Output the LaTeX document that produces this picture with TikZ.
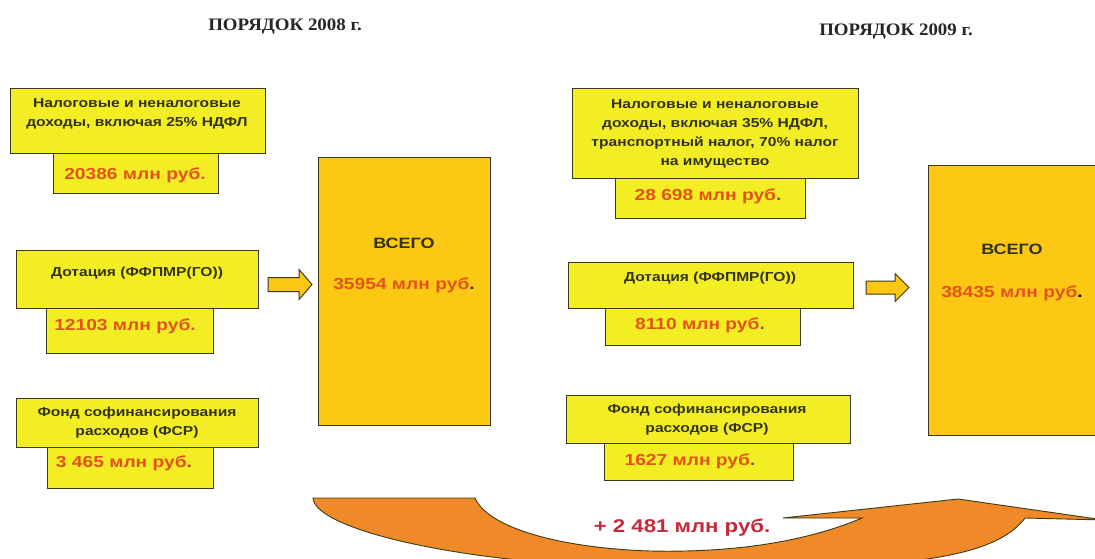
\documentclass[tikz,border=0pt]{standalone}
\usepackage{fontspec}
\setmainfont{Liberation Sans}[FakeStretch=1.2]
\newfontfamily\titlefont{Liberation Serif}[FakeStretch=1.08]
\definecolor{boxy}{HTML}{F3EE24}
\definecolor{boxg}{HTML}{FDC814}
\definecolor{valc}{HTML}{E4521B}
\definecolor{lblc}{HTML}{33331A}
\definecolor{edgec}{HTML}{3B3A14}
\definecolor{arrc}{HTML}{F08A28}
\definecolor{deltac}{HTML}{C62A3A}
\definecolor{perc}{HTML}{666666}
\tikzset{
 yb/.style={draw=edgec, line width=1.4pt, fill=boxy, inner sep=0pt, anchor=north west},
 gb/.style={draw=edgec, line width=1.2pt, fill=boxg, inner sep=0pt, anchor=north west},
 lbl/.style={font=\bfseries\fontsize{13}{19}\selectfont, text=lblc, align=center, inner sep=0pt},
 val/.style={font=\bfseries\fontsize{16}{19}\selectfont, text=valc, inner sep=0pt},
 tot/.style={font=\bfseries\fontsize{15}{19}\selectfont, text=lblc, inner sep=0pt},
 ttl/.style={font=\titlefont\bfseries\fontsize{17.5}{20}\selectfont, text=black!85, inner sep=0pt},
 blockarr/.style={draw=edgec, line width=1pt, fill=boxg},
 curvarr/.style={draw=edgec, line width=0.9pt, fill=arrc},
 delta/.style={font=\bfseries\fontsize{18.5}{20}\selectfont, text=deltac, inner sep=0pt}
}
\begin{document}
\begin{tikzpicture}[x=1pt,y=-1pt]
\path[use as bounding box] (0,0) rectangle (1095,559);
\clip (0,0) rectangle (1095,559);
\fill[white] (0,0) rectangle (1095,559);

% titles
\node[ttl] (t1) at (285,27) {ПОРЯДОК 2008 г.};
\node[ttl] (t2) at (896,32) {ПОРЯДОК 2009 г.};

% curved arrow
\draw[curvarr] (313,498) -- (475,498)
  .. controls (488,528) and (560,548) .. (650,551)
  .. controls (740,553) and (810,540) .. (862,518)
  -- (783,518) -- (958,499) -- (1104,520) -- (1025,518)
  .. controls (1010,538) and (980,552) .. (920,560)
  -- (920,580) -- (540,580) -- (540,562)
  .. controls (420,552) and (315,525) .. (313,498) -- cycle;
\node[delta] (dl) at (682,528) {+ 2 481 млн руб.};

% left column (2008)
\node[yb, minimum width=165pt, minimum height=40pt] (l1v) at (53,153) {};
\node[yb, minimum width=255pt, minimum height=65pt] (l1) at (10,88) {};
\node[lbl] (l1t) at (137,114) {Налоговые и неналоговые\\доходы, включая 25\% НДФЛ};
\node[val] (l1n) at (135,175) {20386 млн руб.};

\node[yb, minimum width=167pt, minimum height=45pt] (l2v) at (46,308) {};
\node[yb, minimum width=242pt, minimum height=58pt] (l2) at (16,250) {};
\node[lbl] (l2t) at (137,273) {Дотация (ФФПМР(ГО))};
\node[val] (l2n) at (125,326) {12103 млн руб.};

\node[yb, minimum width=166pt, minimum height=41pt] (l3v) at (47,447) {};
\node[yb, minimum width=242pt, minimum height=49pt] (l3) at (16,398) {};
\node[lbl] (l3t) at (137,423) {Фонд софинансирования\\расходов (ФСР)};
\node[val] (l3n) at (124,463) {3 465 млн руб\textcolor{deltac}{.}};

\node[gb, minimum width=172pt, minimum height=268pt] (bl) at (318,157) {};
\node[tot] (blt) at (404,243) {ВСЕГО};
\node[val] (bln) at (404,285) {35954 млн руб\textcolor{lblc}{.}};

\draw[blockarr] (268,277.5) -- (299,277.5) -- (299,269.5) -- (312,284.5) -- (299,299.5) -- (299,291.5) -- (268,291.5) -- cycle;

% right column (2009)
\node[yb, minimum width=190pt, minimum height=40pt] (r1v) at (615,178) {};
\node[yb, minimum width=286pt, minimum height=90pt] (r1) at (572,88) {};
\node[lbl] (r1t) at (715,134) {Налоговые и неналоговые\\доходы, включая 35\% НДФЛ,\\транспортный налог, 70\% налог\\на имущество};
\node[val] (r1n) at (708,196) {28 698 млн руб\textcolor{perc}{.}};

\node[yb, minimum width=195pt, minimum height=37pt] (r2v) at (605,308) {};
\node[yb, minimum width=285pt, minimum height=46pt] (r2) at (568,262) {};
\node[lbl] (r2t) at (710,278) {Дотация (ФФПМР(ГО))};
\node[val] (r2n) at (700,325) {8110 млн руб\textcolor{perc}{.}};

\node[yb, minimum width=189pt, minimum height=37pt] (r3v) at (604,443) {};
\node[yb, minimum width=284pt, minimum height=48pt] (r3) at (566,395) {};
\node[lbl] (r3t) at (707,420) {Фонд софинансирования\\расходов (ФСР)};
\node[val] (r3n) at (690,461) {1627 млн руб\textcolor{perc}{.}};

\node[gb, minimum width=180pt, minimum height=270pt] (br) at (928,165) {};
\node[tot] (brt) at (1012,249) {ВСЕГО};
\node[val] (brn) at (1012,293) {38435 млн руб\textcolor{black}{.}};

\draw[blockarr] (866,281) -- (895,281) -- (895,273.5) -- (909,287.5) -- (895,301.5) -- (895,294) -- (866,294) -- cycle;
\end{tikzpicture}
\end{document}
